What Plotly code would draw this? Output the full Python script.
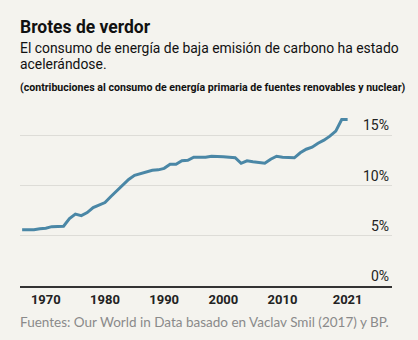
import plotly.graph_objects as go

years = list(range(1966, 2022))
share = [5.6, 5.6, 5.6, 5.7, 5.75, 5.9, 5.95, 5.95, 6.7, 7.15,
         7.0, 7.3, 7.8, 8.05, 8.3, 8.9, 9.5, 10.1, 10.6, 11.0,
         11.15, 11.35, 11.5, 11.55, 11.7, 12.1, 12.1, 12.45, 12.5, 12.8,
         12.8, 12.8, 12.9, 12.9, 12.86, 12.8, 12.75, 12.2, 12.45, 12.35,
         12.3, 12.2, 12.6, 12.9, 12.8, 12.75, 12.75, 13.25, 13.6, 13.8,
         14.2, 14.5, 14.9, 15.4, 16.55, 16.55]

x_ticks = [1970, 1980, 1990, 2000, 2010, 2021]
y_ticks = [0, 5, 10, 15]
y_labels = ["0%", "5%", "10%", "15%"]

title = "Brotes de verdor"
subtitle1 = "El consumo de energía de baja emisión de carbono ha estado"
subtitle2 = "acelerándose."
subtitle3 = "(contribuciones al consumo de energía primaria de fuentes renovables y nuclear)"
source = "Fuentes: Our World in Data basado en Vaclav Smil (2017) y BP."

COND = "Roboto, Liberation Sans, sans-serif"
BG = "#f4f3ee"

W, H = 418, 340
ML, MR, MT, MB = 20, 26, 110, 54
PW, PH = W - ML - MR, H - MT - MB

def px(x):
    return (x - ML) / PW

def py(y):
    return (H - MB - y) / PH

fig = go.Figure()
fig.add_trace(go.Scatter(
    x=years, y=share, mode="lines",
    line=dict(color="#4a87a6", width=3),
    hoverinfo="skip", showlegend=False,
))

fig.update_layout(
    width=W, height=H,
    margin=dict(l=ML, r=MR, t=MT, b=MB),
    paper_bgcolor=BG, plot_bgcolor=BG,
    xaxis=dict(
        range=[1965.64, 2028.5], tickvals=x_ticks,
        ticktext=[str(v) for v in x_ticks],
        showgrid=False, zeroline=False,
        showline=True, linecolor="#333333", linewidth=2,
        ticks="", tickfont=dict(family=COND, size=13, color="#222", weight="bold"),
    ),
    yaxis=dict(
        range=[0, 17.5], side="right", tickvals=y_ticks, ticktext=y_labels,
        ticklabelposition="inside top",
        showgrid=True, gridcolor="#dddcd7", gridwidth=1,
        zeroline=False, showline=False, ticks="",
        tickfont=dict(family=COND, size=14, color="#222"),
    ),
    annotations=[
        dict(text="<b>" + title + "</b>", x=px(18), y=py(27), xref="paper", yref="paper",
             xanchor="left", yanchor="middle", showarrow=False,
             font=dict(family=COND, size=17.5, color="#111")),
        dict(text=subtitle1, x=px(18), y=py(48), xref="paper", yref="paper",
             xanchor="left", yanchor="middle", showarrow=False,
             font=dict(family=COND, size=13.9, color="#111")),
        dict(text=subtitle2, x=px(18), y=py(64), xref="paper", yref="paper",
             xanchor="left", yanchor="middle", showarrow=False,
             font=dict(family=COND, size=13.9, color="#111")),
        dict(text="<b>" + subtitle3 + "</b>", x=px(18), y=py(87), xref="paper", yref="paper",
             xanchor="left", yanchor="middle", showarrow=False,
             font=dict(family=COND, size=10.6, color="#111")),
        dict(text=source, x=px(18), y=py(322), xref="paper", yref="paper",
             xanchor="left", yanchor="middle", showarrow=False,
             font=dict(family="Lato", size=13.5, color="#8a8a8a")),
    ],
)

fig.write_html("out.html")
